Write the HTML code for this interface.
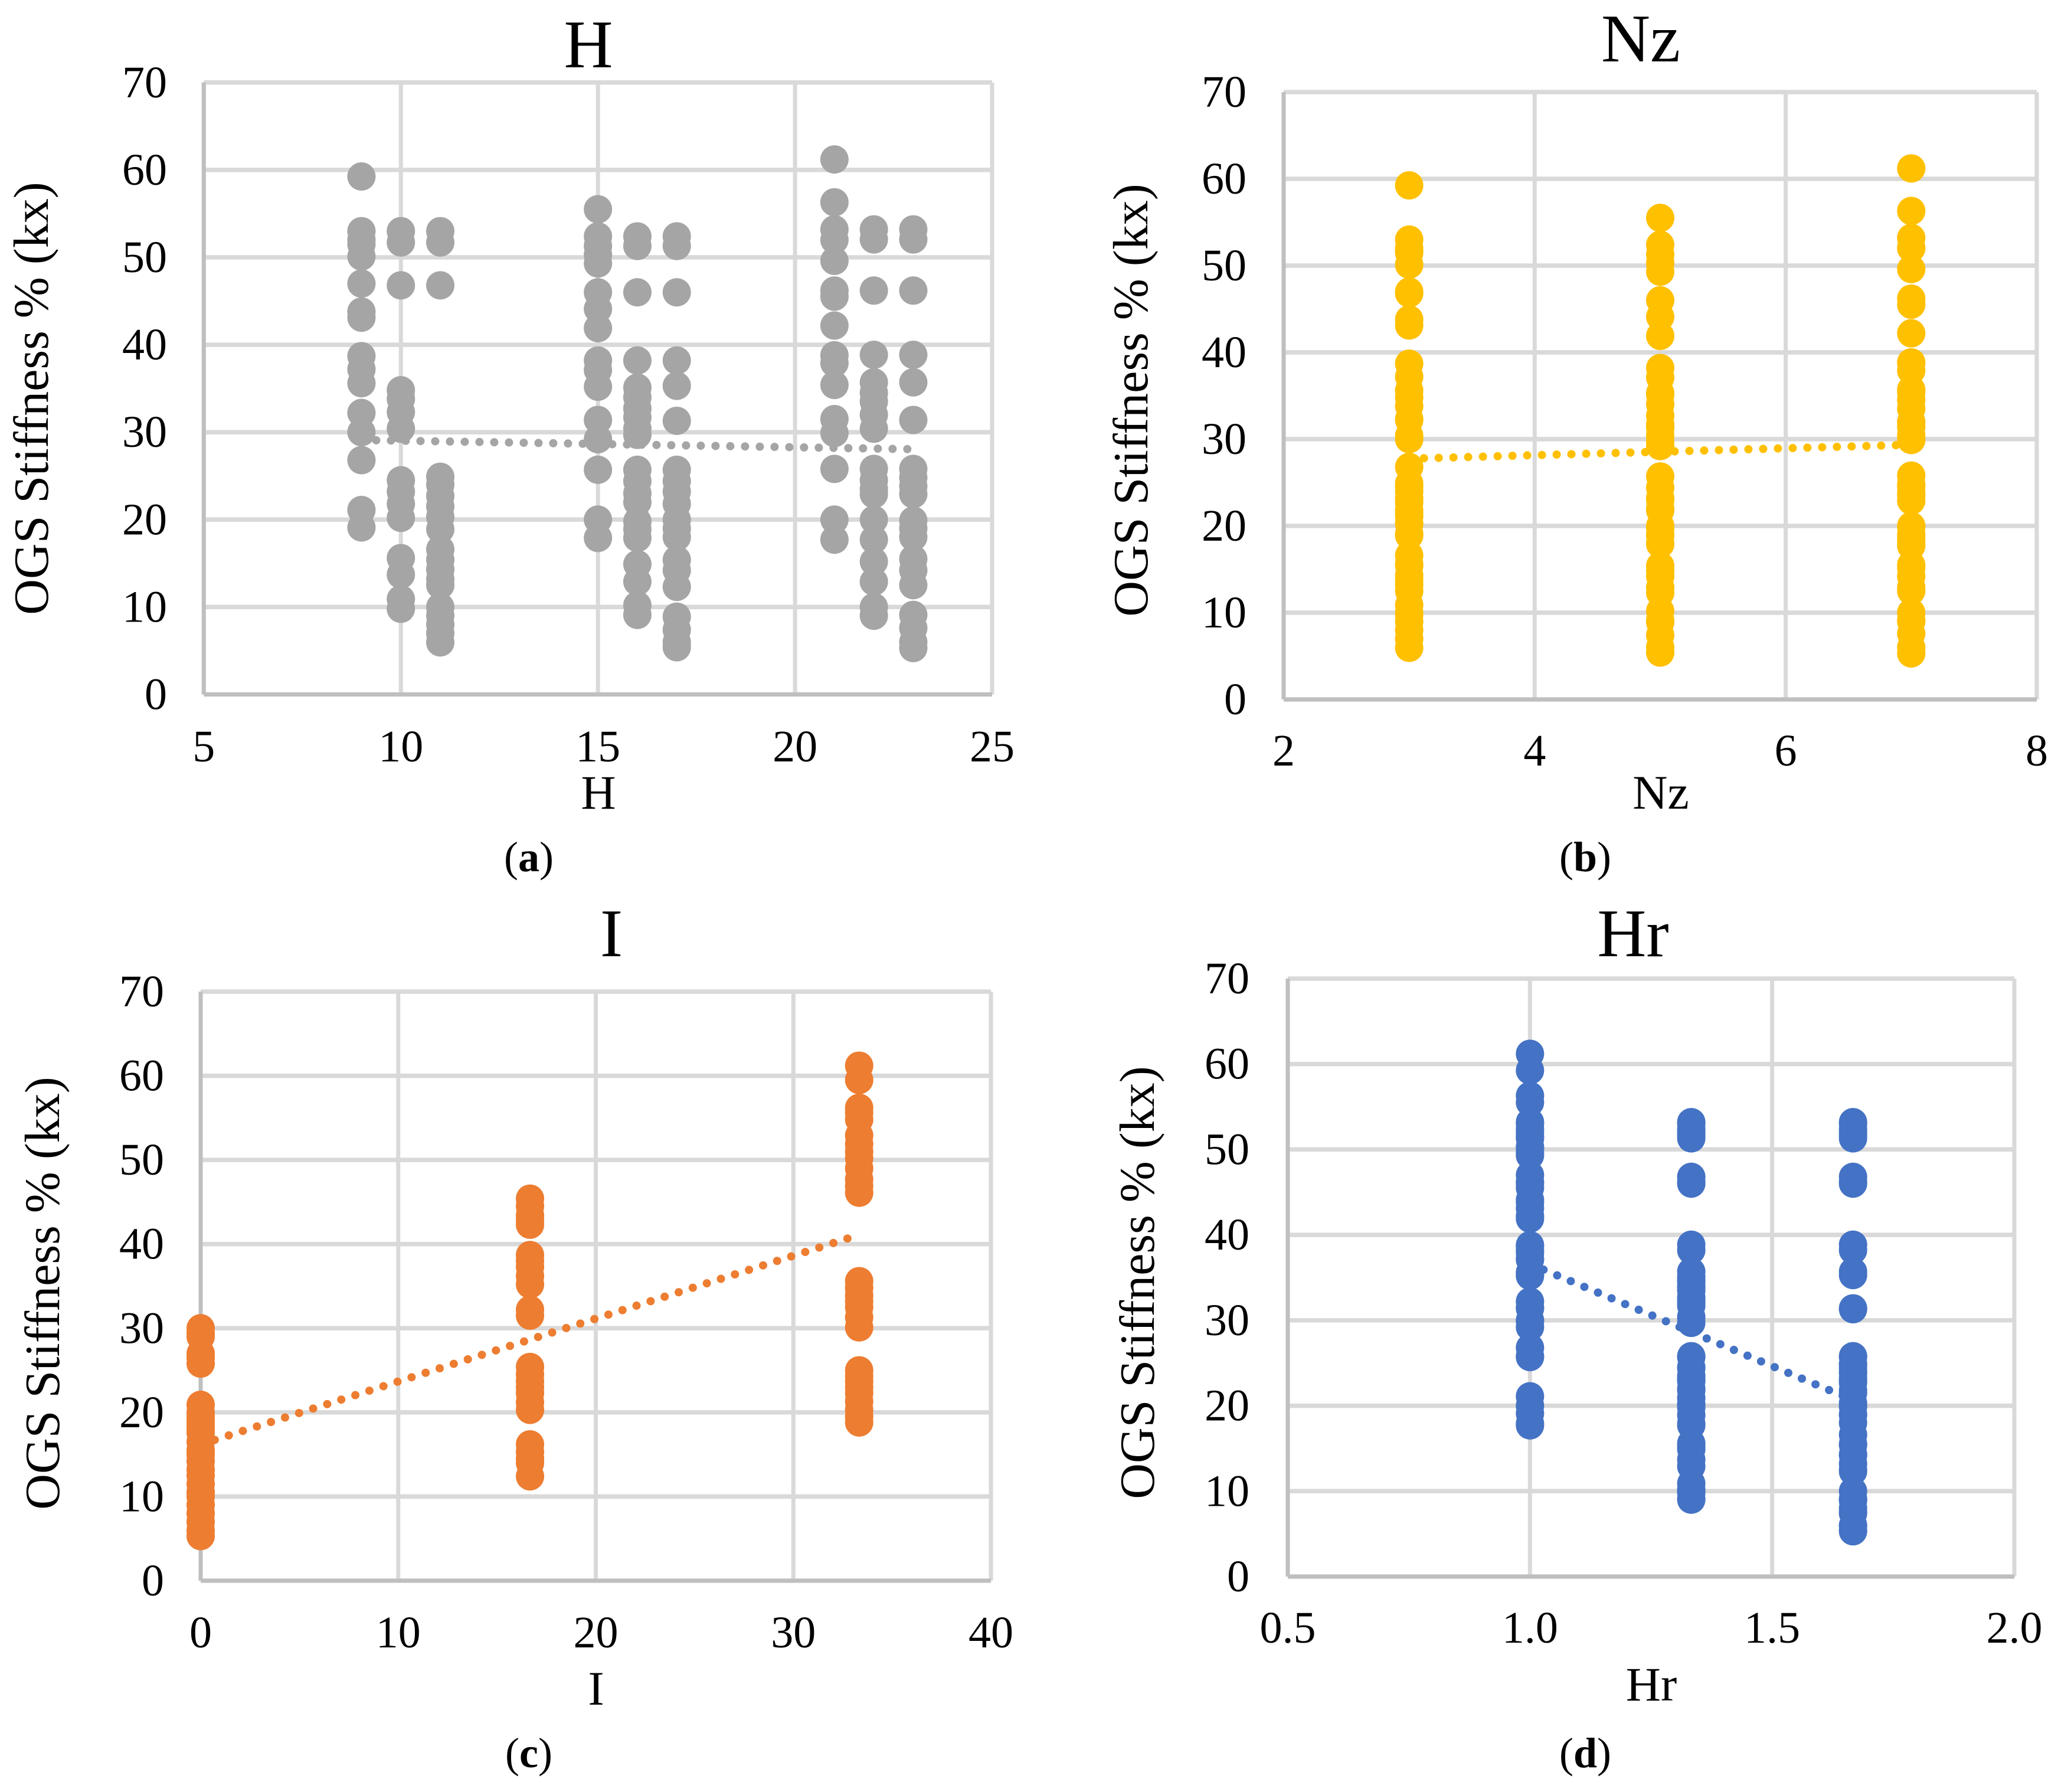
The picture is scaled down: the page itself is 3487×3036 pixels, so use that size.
<!DOCTYPE html>
<html lang="en">
<head>
<meta charset="utf-8">
<title>OGS Stiffness scatter plots</title>
<style>
html,body{margin:0;padding:0;background:#fff;}
svg{display:block;}
text{font-family:"Liberation Serif","Times New Roman",serif;fill:#000;}
</style>
</head>
<body>
<svg id="figure" xmlns="http://www.w3.org/2000/svg" width="3487" height="3036" viewBox="0 0 3487 3036">
<rect width="3487" height="3036" fill="#fff"/>

<g id="panel-a"></g>
<g id="panel-b"></g>
<g id="panel-c"></g>
<g id="panel-d"></g>

<text x="997" y="114" font-size="115" text-anchor="middle">H</text>
<text x="1014" y="1370" font-size="82" text-anchor="middle">H</text>
<text transform="translate(81,675) rotate(-90)" font-size="84" text-anchor="middle">OGS Stiffness % (kx)</text>
<text x="896" y="1476" font-size="72" text-anchor="middle">(<tspan font-weight="bold">a</tspan>)</text>

<text x="2780" y="104" font-size="115" text-anchor="middle">Nz</text>
<text x="2814" y="1370" font-size="82" text-anchor="middle">Nz</text>
<text transform="translate(1944,678) rotate(-90)" font-size="84" text-anchor="middle">OGS Stiffness % (kx)</text>
<text x="2686" y="1476" font-size="72" text-anchor="middle">(<tspan font-weight="bold">b</tspan>)</text>

<text x="1036" y="1620" font-size="115" text-anchor="middle">I</text>
<text x="1010" y="2888" font-size="82" text-anchor="middle">I</text>
<text transform="translate(100,2191) rotate(-90)" font-size="84" text-anchor="middle">OGS Stiffness % (kx)</text>
<text x="896" y="2994" font-size="72" text-anchor="middle">(<tspan font-weight="bold">c</tspan>)</text>

<text x="2767" y="1620" font-size="115" text-anchor="middle">Hr</text>
<text x="2798" y="2881" font-size="82" text-anchor="middle">Hr</text>
<text transform="translate(1955,2173) rotate(-90)" font-size="84" text-anchor="middle">OGS Stiffness % (kx)</text>
<text x="2686" y="2994" font-size="72" text-anchor="middle">(<tspan font-weight="bold">d</tspan>)</text>
</svg>

<script>
// Shared y-axis ticks
const yTickValues = [0, 10, 20, 30, 40, 50, 60, 70];

// Panel (a): H
const hXTickValues = [5, 10, 15, 20, 25];
const hXTickLabels = ["5", "10", "15", "20", "25"];
const hCategories = [9, 10, 11, 15, 16, 17, 21, 22, 23];
const hAt9 = [59.25, 53, 52, 51.5, 50.1, 47, 43.8, 43.1, 38.7, 37.2, 35.6, 32.2, 30, 26.8, 21.1, 19.1];
const hAt10 = [53, 51.7, 46.8, 34.8, 33.8, 32.3, 30.4, 24.5, 23.2, 21.8, 20.2, 15.6, 13.7, 10.9, 9.8];
const hAt11 = [53, 51.7, 46.8, 24.9, 24, 22.7, 21.5, 20.3, 18.9, 16.6, 15.4, 14.3, 13.2, 12.5, 10, 9, 8, 7, 5.95];
const hAt15 = [55.5, 52.4, 51.3, 50.3, 49.3, 46, 44.1, 41.9, 38.2, 37.1, 35.2, 31.4, 29.2, 25.7, 20, 17.9];
const hAt16 = [52.4, 51.3, 46, 38.2, 35.1, 34, 32.7, 31.7, 30.4, 29.7, 25.7, 24.4, 23, 22, 19.8, 18.9, 17.9, 14.9, 12.9, 10.2, 9.1];
const hAt17 = [52.4, 51.3, 46, 38.2, 35.3, 31.3, 25.7, 24.4, 23.2, 21.8, 20, 19, 18, 15.4, 14.2, 12.3, 8.9, 7.4, 6, 5.4];
const hAt21 = [61.2, 56.3, 53.2, 52, 49.6, 46.2, 45.5, 42.2, 38.8, 37.9, 35.4, 31.5, 29.9, 25.8, 20, 17.7];
const hAt22 = [53.2, 52.05, 46.2, 38.85, 35.7, 34.5, 33.5, 32, 30.4, 25.8, 24.5, 23.5, 22.9, 20, 17.7, 15.2, 12.9, 10, 9];
const hAt23 = [53.2, 52.05, 46.2, 38.85, 35.7, 31.4, 25.8, 24.8, 23.8, 22.9, 19.9, 19, 18, 15.5, 14.2, 12.5, 9.1, 7.6, 6, 5.3];
const hSeries = [hAt9, hAt10, hAt11, hAt15, hAt16, hAt17, hAt21, hAt22, hAt23];
const hTrendX = [9, 23];
const hTrendY = [29.1, 28.05];

// Panel (b): Nz
const nzXTickValues = [2, 4, 6, 8];
const nzXTickLabels = ["2", "4", "6", "8"];
const nzCategories = [3, 5, 7];
const nzAt3 = [59.25, 53, 52, 51.7, 51.5, 50.1, 47, 46.8, 43.8, 43.1, 38.7, 37.2, 35.6, 34.8, 33.8, 32.3, 32.2, 30.4, 30, 26.8, 24.9, 24.5, 24, 23.2, 22.7, 21.8, 21.5, 21.1, 20.3, 20.2, 19.1, 18.9, 16.6, 15.6, 15.4, 14.3, 13.7, 13.2, 12.5, 10.9, 10, 9.8, 9, 8, 7, 5.95];
const nzAt5 = [55.5, 52.4, 51.3, 50.3, 49.3, 46, 44.1, 41.9, 38.2, 37.1, 35.3, 35.2, 35.1, 34, 32.7, 31.7, 31.4, 31.3, 30.4, 29.7, 29.2, 25.7, 24.4, 23.2, 23, 22, 21.8, 20, 19.8, 19, 18.9, 18, 17.9, 15.4, 14.9, 14.2, 12.9, 12.3, 10.2, 9.1, 8.9, 7.4, 6, 5.4];
const nzAt7 = [61.2, 56.3, 53.2, 52.05, 52, 49.6, 46.2, 45.5, 42.2, 38.85, 38.8, 37.9, 35.7, 35.4, 34.5, 33.5, 32, 31.5, 31.4, 30.4, 29.9, 25.8, 24.8, 24.5, 23.8, 23.5, 22.9, 20, 19.9, 19, 18.5, 18, 17.7, 15.5, 15.2, 14.2, 12.9, 12.5, 10, 9.1, 9, 7.6, 6, 5.3];
const nzSeries = [nzAt3, nzAt5, nzAt7];
const nzTrendX = [3, 7];
const nzTrendY = [27.75, 29.35];

// Panel (c): I
const iXTickValues = [0, 10, 20, 30, 40];
const iXTickLabels = ["0", "10", "20", "30", "40"];
const iCategories = [0, 16.67, 33.33];
const iAt0 = [30, 29.4, 29, 27, 26.5, 25.8, 20.9, 20, 19.5, 19, 18.5, 18, 17.6, 16.5, 15.5, 15, 14.2, 13.2, 12.5, 11.5, 10.5, 10, 9, 8, 7, 6, 5.3];
const iAt17 = [45.4, 44.5, 43.4, 42.8, 42.3, 38.7, 38, 37.3, 36.2, 35.2, 32.2, 31.5, 25.4, 24.5, 23.7, 23, 22.3, 21.2, 20.3, 16.2, 15.3, 14.5, 14, 12.4];
const iAt33 = [61.2, 59.5, 56.2, 55.6, 54.8, 52.9, 51.9, 51, 50.2, 49, 47.7, 46.9, 46.1, 35.6, 34.8, 33.9, 33.2, 32.5, 31.3, 30.1, 25, 24.3, 23.7, 23, 22.3, 21.3, 20.3, 19.5, 18.8];
const iSeries = [iAt0, iAt17, iAt33];
const iTrendX = [0, 33.33];
const iTrendY = [16.2, 41.1];

// Panel (d): Hr
const hrXTickValues = [0.5, 1, 1.5, 2];
const hrXTickLabels = ["0.5", "1.0", "1.5", "2.0"];
const hrCategories = [1, 1.333, 1.667];
const hrAt100 = [61.2, 59.25, 56.3, 55.5, 53.2, 53, 52.4, 52, 51.5, 51.3, 50.3, 50.1, 49.6, 49.3, 47, 46.2, 46, 45.5, 44.1, 43.8, 43.1, 42.2, 41.9, 38.8, 38.7, 38.2, 37.9, 37.2, 37.1, 35.6, 35.4, 35.2, 32.2, 31.5, 31.4, 30, 29.9, 29.2, 26.8, 25.8, 25.7, 21.1, 20, 19.1, 17.9, 17.7];
const hrAt133 = [53.2, 53, 52.4, 52.05, 51.7, 51.3, 46.8, 46.2, 46, 38.85, 38.2, 35.7, 35.1, 34.8, 34.5, 34, 33.8, 33.5, 32.7, 32.3, 32, 31.7, 30.4, 29.7, 25.8, 25.7, 24.5, 24.4, 23.5, 23.2, 23, 22.9, 22, 21.8, 20.9, 20.2, 20, 19.8, 18.9, 17.9, 17.7, 15.6, 15.2, 14.9, 13.7, 12.9, 10.9, 10.2, 10, 9.8, 9.1, 9];
const hrAt167 = [53.2, 53, 52.4, 52.05, 51.7, 51.3, 46.8, 46.2, 46, 38.85, 38.2, 35.7, 35.3, 31.4, 31.3, 25.8, 25.7, 24.9, 24.8, 24.4, 24, 23.8, 23.2, 22.9, 22.7, 21.8, 21.5, 20.3, 20, 19.9, 19, 18.9, 18, 16.6, 15.5, 15.4, 14.3, 14.2, 13.2, 12.5, 12.3, 10, 9.1, 9, 8.9, 8, 7.6, 7.4, 6, 5.95, 5.4, 5.3];
const hrSeries = [hrAt100, hrAt133, hrAt167];
const hrTrendX = [1, 1.667];
const hrTrendY = [36.6, 20.65];

const SVG_NS = "http://www.w3.org/2000/svg";

function drawPanel(groupId, box, xDomain, xTickValues, xTickLabels, categories, series, trendX, trendY, color) {
  const g = document.getElementById(groupId);
  const sx = v => box.left + (v - xDomain[0]) / (xDomain[1] - xDomain[0]) * (box.right - box.left);
  const sy = v => box.bottom - v / 70 * (box.bottom - box.top);

  yTickValues.forEach(function (t) {
    const line = document.createElementNS(SVG_NS, "line");
    
    
    line.setAttribute("x1", box.left);
    line.setAttribute("x2", box.right);
    line.setAttribute("y1", sy(t));
    line.setAttribute("y2", sy(t));
    line.setAttribute("stroke", "#d9d9d9");
    line.setAttribute("stroke-width", 7.5);
    g.appendChild(line);

    const label = document.createElementNS(SVG_NS, "text");
    
    
    label.setAttribute("x", box.yLabelRight);
    label.setAttribute("y", sy(t) + 25);
    label.setAttribute("font-size", 76);
    label.setAttribute("text-anchor", "end");
    label.textContent = String(t);
    g.appendChild(label);
  });

  xTickValues.forEach(function (t, i) {
    const line = document.createElementNS(SVG_NS, "line");
    
    
    line.setAttribute("x1", sx(t));
    line.setAttribute("x2", sx(t));
    line.setAttribute("y1", box.top);
    line.setAttribute("y2", box.bottom);
    line.setAttribute("stroke", "#d9d9d9");
    line.setAttribute("stroke-width", 7);
    g.appendChild(line);

    const label = document.createElementNS(SVG_NS, "text");
    
    
    label.setAttribute("x", sx(t));
    label.setAttribute("y", box.xLabelBaseline);
    label.setAttribute("font-size", 76);
    label.setAttribute("text-anchor", "middle");
    label.textContent = xTickLabels[i];
    g.appendChild(label);
  });

  const yAxis = document.createElementNS(SVG_NS, "line");
  
  
  yAxis.setAttribute("x1", box.left);
  yAxis.setAttribute("x2", box.left);
  yAxis.setAttribute("y1", box.top);
  yAxis.setAttribute("y2", box.bottom);
  yAxis.setAttribute("stroke", "#bfbfbf");
  yAxis.setAttribute("stroke-width", 7);
  g.appendChild(yAxis);

  const xAxis = document.createElementNS(SVG_NS, "line");
  
  
  xAxis.setAttribute("x1", box.left);
  xAxis.setAttribute("x2", box.right);
  xAxis.setAttribute("y1", box.bottom);
  xAxis.setAttribute("y2", box.bottom);
  xAxis.setAttribute("stroke", "#bfbfbf");
  xAxis.setAttribute("stroke-width", 7);
  g.appendChild(xAxis);

  categories.forEach(function (cat, i) {
    series[i].forEach(function (v) {
      const dot = document.createElementNS(SVG_NS, "circle");
      
      
      dot.setAttribute("cx", sx(cat));
      dot.setAttribute("cy", sy(v));
      dot.setAttribute("r", 24);
      dot.setAttribute("fill", color);
      g.appendChild(dot);
    });
  });

  const trend = document.createElementNS(SVG_NS, "line");
  
  
  trend.setAttribute("x1", sx(trendX[0]));
  trend.setAttribute("y1", sy(trendY[0]));
  trend.setAttribute("x2", sx(trendX[1]));
  trend.setAttribute("y2", sy(trendY[1]));
  trend.setAttribute("stroke", color);
  trend.setAttribute("stroke-width", 14);
  trend.setAttribute("stroke-linecap", "round");
  trend.setAttribute("stroke-dasharray", "0 25");
  g.appendChild(trend);
}

drawPanel("panel-a", {left: 345.3, right: 1681, top: 139.8, bottom: 1176.5, yLabelRight: 283, xLabelBaseline: 1290},
  [5, 25], hXTickValues, hXTickLabels, hCategories, hSeries, hTrendX, hTrendY, "#a5a5a5");
drawPanel("panel-b", {left: 2175, right: 3451, top: 156, bottom: 1185, yLabelRight: 2112, xLabelBaseline: 1297},
  [2, 8], nzXTickValues, nzXTickLabels, nzCategories, nzSeries, nzTrendX, nzTrendY, "#ffc000");
drawPanel("panel-c", {left: 340, right: 1679, top: 1680, bottom: 2678, yLabelRight: 278, xLabelBaseline: 2791},
  [0, 40], iXTickValues, iXTickLabels, iCategories, iSeries, iTrendX, iTrendY, "#ed7d31");
drawPanel("panel-d", {left: 2182, right: 3413, top: 1658, bottom: 2671, yLabelRight: 2117, xLabelBaseline: 2783},
  [0.5, 2], hrXTickValues, hrXTickLabels, hrCategories, hrSeries, hrTrendX, hrTrendY, "#4472c4");
</script>
</body>
</html>
